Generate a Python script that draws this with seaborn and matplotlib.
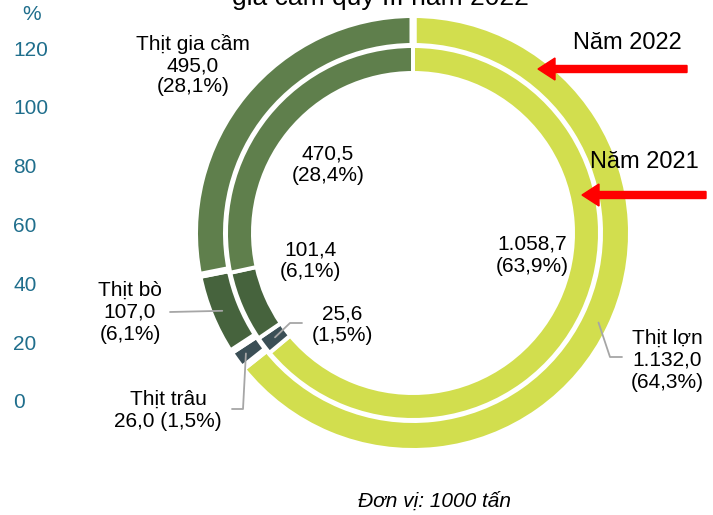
import numpy as np
import matplotlib
matplotlib.use("Agg")
import matplotlib.pyplot as plt
import seaborn as sns

# ---- data ----
categories = ["Thịt lợn", "Thịt trâu", "Thịt bò", "Thịt gia cầm"]
values_2022 = [1132.0, 26.0, 107.0, 495.0]
values_2021 = [1058.7, 25.6, 101.4, 470.5]
pct_2022 = ["64,3%", "1,5%", "6,1%", "28,1%"]
pct_2021 = ["63,9%", "1,5%", "6,1%", "28,4%"]
txt_2022 = ["1.132,0", "26,0", "107,0", "495,0"]
txt_2021 = ["1.058,7", "25,6", "101,4", "470,5"]
y_ticks = [0, 20, 40, 60, 80, 100, 120]
colors = ["#D2DE4E", "#3B4F56", "#46633D", "#5F7F4C"]

sns.set_theme(style="white")
plt.rcParams["font.family"] = ["Liberation Sans", "DejaVu Sans"]
plt.rcParams["text.color"] = "black"

W, H = 713, 515
fig = plt.figure(figsize=(W / 100, H / 100), dpi=100)
fig.patch.set_facecolor("white")

# ---- left percentage axis ----
y_top_px, y_bot_px = 48, 401
ax_y = fig.add_axes([0, (H - y_bot_px) / H, 12 / W, (y_bot_px - y_top_px) / H])
ax_y.set_ylim(0, 120)
ax_y.set_yticks(y_ticks)
ax_y.set_yticklabels([str(t) for t in y_ticks])
ax_y.yaxis.tick_right()
ax_y.tick_params(axis="y", length=0, pad=1, labelsize=15, labelcolor="#1F6E8C")
ax_y.set_xticks([])
ax_y.patch.set_alpha(0)
sns.despine(ax=ax_y, left=True, right=True, top=True, bottom=True)
fig.text(32 / W, 1 - 15 / H, "%", ha="center", va="center", fontsize=15, color="#1F6E8C")

# ---- donut ----
ax = fig.add_axes([0, 0, 1, 1])
cx, cy = 413, H - 233
lw_out, lw_in = 7.0, 4.0
wedges_out, _ = ax.pie(values_2022, colors=colors, startangle=90, counterclock=False,
                       center=(cx, cy), radius=215 + lw_out / 2,
                       wedgeprops=dict(width=25 + lw_out, edgecolor="white",
                                       linewidth=lw_out * 0.72))
wedges_in, _ = ax.pie(values_2021, colors=colors, startangle=90, counterclock=False,
                      center=(cx, cy), radius=185 + lw_in / 2,
                      wedgeprops=dict(width=23 + lw_in, edgecolor="white",
                                      linewidth=lw_in * 0.72))
ax.set_xlim(0, W)
ax.set_ylim(0, H)
ax.set_aspect("equal")
ax.axis("off")


def mid(w, r):
    th = np.deg2rad((w.theta1 + w.theta2) / 2)
    return cx + r * np.cos(th), cy + r * np.sin(th)


def Y(yt):
    return H - yt


lc = "#A6A6A6"
fs = 15
tc = "black"

# leader lines
p = mid(wedges_out[2], 206)
ax.plot([p[0], 170], [p[1], Y(312)], color=lc, lw=1.3, zorder=5)
p = mid(wedges_out[1], 206)
ax.plot([p[0], 243, 232], [p[1], Y(409), Y(409)], color=lc, lw=1.3, zorder=5)
p = mid(wedges_in[1], 173)
ax.plot([p[0], 290, 302], [p[1], Y(323), Y(323)], color=lc, lw=1.3, zorder=5)
p = mid(wedges_out[0], 206)
ax.plot([p[0], 610, 622], [p[1], Y(357), Y(357)], color=lc, lw=1.3, zorder=5)

# outer labels (2022)
ax.text(193, Y(65), f"{categories[3]}\n{txt_2022[3]}\n({pct_2022[3]})", ha="center", va="center",
        fontsize=fs, linespacing=1.12, color=tc)
ax.text(130, Y(312), f"{categories[2]}\n{txt_2022[2]}\n({pct_2022[2]})", ha="center", va="center",
        fontsize=fs, linespacing=1.2, color=tc)
ax.text(168, Y(410.5), f"{categories[1]}\n{txt_2022[1]} ({pct_2022[1]})", ha="center", va="center",
        fontsize=fs, linespacing=1.2, color=tc)
ax.text(667, Y(360), f"{categories[0]}\n{txt_2022[0]}\n({pct_2022[0]})", ha="center", va="center",
        fontsize=fs, linespacing=1.2, color=tc)

# inner labels (2021)
ax.text(328, Y(164.5), f"{txt_2021[3]}\n({pct_2021[3]})", ha="center", va="center", fontsize=fs,
        linespacing=1.2, color=tc)
ax.text(310, Y(260.5), f"{txt_2021[2]}\n({pct_2021[2]})", ha="center", va="center", fontsize=fs,
        linespacing=1.2, color=tc)
ax.text(532, Y(255.5), f"{txt_2021[0]}\n({pct_2021[0]})", ha="center", va="center", fontsize=fs,
        linespacing=1.2, color=tc)
ax.text(342, Y(324.5), f"{txt_2021[1]}\n({pct_2021[1]})", ha="center", va="center", fontsize=fs,
        linespacing=1.2, color=tc)

# year labels and arrows
ax.text(627, Y(43), "Năm 2022", ha="center", va="center", fontsize=17, color=tc)
ax.text(644, Y(162), "Năm 2021", ha="center", va="center", fontsize=17, color=tc)
ax.arrow(687, Y(69), 538 - 687, 0, width=7, head_width=22, head_length=17,
         length_includes_head=True, color="#FF0000", zorder=6)
ax.arrow(706, Y(195), 582 - 706, 0, width=7, head_width=22, head_length=17,
         length_includes_head=True, color="#FF0000", zorder=6)

# title (clipped at top, as in the reference) and unit note
fig.text(380 / W, 1 - 5 / H, "gia cầm quý III năm 2022", ha="center", va="baseline", fontsize=19, color=tc)
fig.text(434 / W, 1 - 501 / H, "Đơn vị: 1000 tấn", ha="center", va="center", fontsize=15,
         style="italic", color=tc)

fig.savefig("out.png", dpi=100, facecolor="white")
